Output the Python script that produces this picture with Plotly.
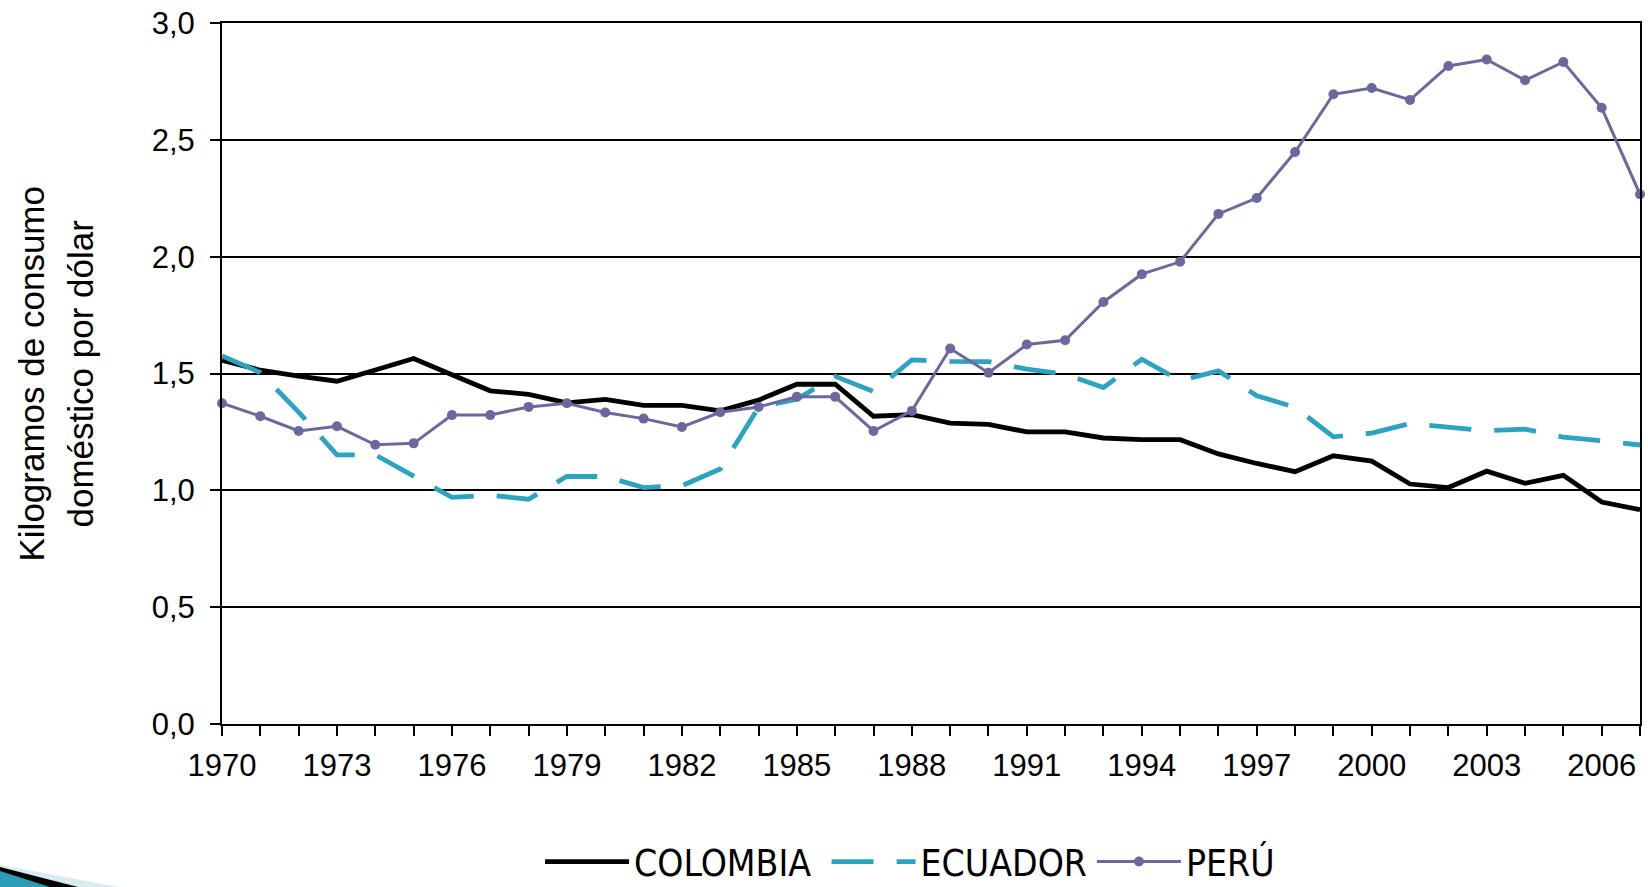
import plotly.graph_objects as go

years = list(range(1970, 2008))

colombia = [1.557, 1.514, 1.489, 1.467, 1.515, 1.564, 1.495, 1.426, 1.411, 1.374,
            1.389, 1.364, 1.364, 1.340, 1.386, 1.454, 1.454, 1.317, 1.324, 1.288,
            1.282, 1.250, 1.250, 1.224, 1.217, 1.217, 1.156, 1.115, 1.080, 1.148,
            1.125, 1.027, 1.012, 1.082, 1.030, 1.064, 0.950, 0.917]

ecuador = [1.575, 1.504, 1.335, 1.152, 1.152, 1.063, 0.970, 0.979, 0.962, 1.060,
           1.059, 1.012, 1.020, 1.091, 1.355, 1.390, 1.488, 1.423, 1.558, 1.552,
           1.551, 1.519, 1.497, 1.440, 1.561, 1.469, 1.511, 1.405, 1.355, 1.229,
           1.245, 1.286, 1.269, 1.255, 1.262, 1.228, 1.212, 1.194]

peru = [1.373, 1.317, 1.254, 1.274, 1.195, 1.201, 1.322, 1.322, 1.357, 1.373,
        1.333, 1.307, 1.271, 1.334, 1.357, 1.400, 1.400, 1.254, 1.340, 1.607,
        1.503, 1.624, 1.642, 1.806, 1.925, 1.978, 2.183, 2.251, 2.448, 2.695,
        2.722, 2.671, 2.816, 2.844, 2.755, 2.833, 2.637, 2.267]

series_names = ["COLOMBIA", "ECUADOR", "PERÚ"]

y_ticks = [0.0, 0.5, 1.0, 1.5, 2.0, 2.5, 3.0]
y_tick_text = ["0,0", "0,5", "1,0", "1,5", "2,0", "2,5", "3,0"]
x_tick_text = [str(y) if (y - 1970) % 3 == 0 else "" for y in years]

# page geometry (body margin removed, so figure == page)
W, H = 1648, 887
P_LEFT, P_TOP, P_RIGHT, P_BOTTOM = 222, 23, 1640, 724
ML = P_LEFT
MT = P_TOP
MR = W - P_RIGHT
MB = H - P_BOTTOM
PW = P_RIGHT - P_LEFT
PH = P_BOTTOM - P_TOP


def px_x(px):
    return (px - P_LEFT) / PW


def px_y(py):
    return (P_BOTTOM - py) / PH


BLACK = "#000000"
TEAL = "#2BA3C1"
PURPLE = "#6A699E"
FONT = "Liberation Sans, Arial, sans-serif"
NARROW = "Liberation Sans Narrow, Arial Narrow, DejaVu Sans Condensed, sans-serif"
NB = "\u00a0"

fig = go.Figure()
fig.add_trace(go.Scatter(x=years, y=colombia, name=series_names[0] + NB, mode="lines",
                         line=dict(color=BLACK, width=4.8), cliponaxis=False))
fig.add_trace(go.Scatter(x=years, y=ecuador, name=series_names[1], mode="lines",
                         line=dict(color=TEAL, width=4.8, dash="42px,23px"),
                         cliponaxis=False))
fig.add_trace(go.Scatter(x=years, y=peru, name=series_names[2], mode="lines+markers",
                         line=dict(color=PURPLE, width=3),
                         marker=dict(color=PURPLE, size=10),
                         cliponaxis=False))

fig.update_layout(
    width=W, height=H,
    margin=dict(l=ML, r=MR, t=MT, b=MB, autoexpand=False),
    paper_bgcolor="white", plot_bgcolor="white",
    font=dict(family=FONT, size=31, color="black"),
    showlegend=True,
    legend=dict(orientation="h", x=px_x(910), xanchor="center",
                y=px_y(862), yanchor="middle",
                font=dict(family=NARROW, size=37, color="black"),
                itemwidth=84, bgcolor="rgba(0,0,0,0)"),
    xaxis=dict(range=[1970, 2007], tickmode="array", tickvals=years,
               ticktext=x_tick_text, ticks="outside", ticklen=10, tickwidth=2,
               tickcolor="black", showline=True, linecolor="black", linewidth=2,
               mirror=True, showgrid=False, zeroline=False, ticklabelstandoff=3,
               tickfont=dict(size=31), automargin=False,
               ticklabeloverflow="allow"),
    yaxis=dict(range=[0, 3], tickmode="array", tickvals=y_ticks,
               ticktext=y_tick_text, ticks="outside", ticklen=10, tickwidth=2,
               tickcolor="black", showline=True, linecolor="black", linewidth=2,
               mirror=True, showgrid=True, gridcolor="black", gridwidth=1.5,
               zeroline=False, ticklabelstandoff=9, tickfont=dict(size=31),
               automargin=False, ticklabeloverflow="allow"),
)

fig.add_annotation(text="Kilogramos de consumo", textangle=-90,
                   xref="paper", yref="paper", x=px_x(31), y=px_y(373.5),
                   xanchor="center", yanchor="middle", showarrow=False,
                   font=dict(family=FONT, size=35, color="black"))
fig.add_annotation(text="doméstico por dólar", textangle=-90,
                   xref="paper", yref="paper", x=px_x(80), y=px_y(373.5),
                   xanchor="center", yanchor="middle", showarrow=False,
                   font=dict(family=FONT, size=35, color="black"))


def path(points):
    return "M " + " L ".join(f"{px_x(a)},{px_y(b)}" for a, b in points) + " Z"


fig.add_shape(type="path", xref="paper", yref="paper",
              path=path([(0, 865), (118, 887), (0, 887)]),
              fillcolor="#D6EBF2", line=dict(width=0), layer="above")
fig.add_shape(type="path", xref="paper", yref="paper",
              path=path([(0, 867), (78, 887), (0, 887)]),
              fillcolor="#000000", line=dict(width=0), layer="above")
fig.add_shape(type="path", xref="paper", yref="paper",
              path=path([(0, 871), (50, 887), (0, 887)]),
              fillcolor="#2A9DB8", line=dict(width=0), layer="above")

fig.write_html("out.html",
               config={"displayModeBar": False},
               post_script="document.body.style.margin='0';"
                           "document.body.style.overflow='hidden';")
